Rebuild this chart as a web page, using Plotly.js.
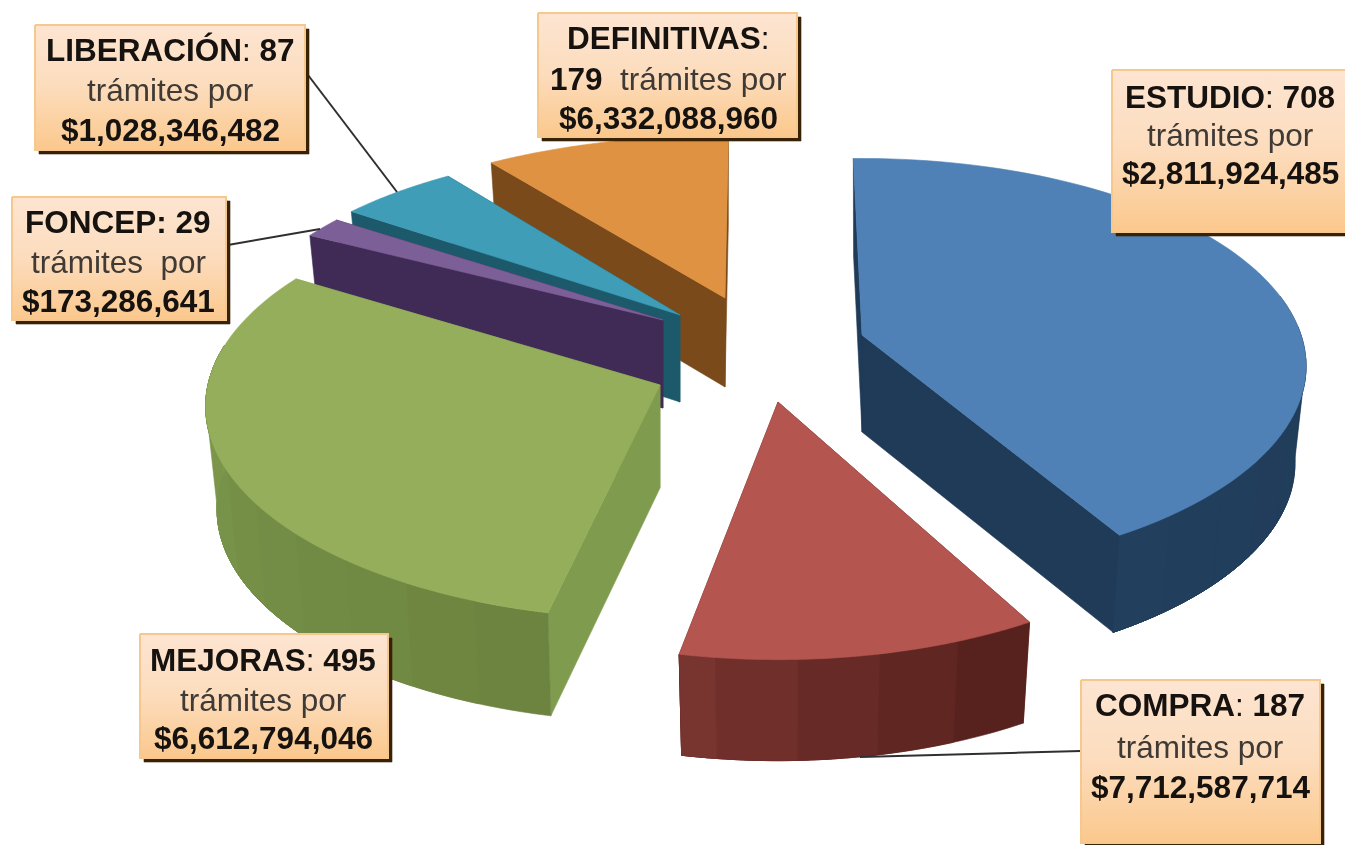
<!DOCTYPE html>
<html><head><meta charset="utf-8">
<script src="https://cdn.plot.ly/plotly-3.0.1.min.js"></script>
<style>html,body{margin:0;padding:0;background:#fff}#c{width:1345px;height:845px;filter:blur(.45px)}</style>
</head><body><div id="c"></div>
<script>
// ---- data ----
var categories = ["ESTUDIO","COMPRA","MEJORAS","FONCEP","LIBERACIÓN","DEFINITIVAS"];
var tramites   = [708,187,495,29,87,179];
var montos     = ["$2,811,924,485","$7,712,587,714","$6,612,794,046","$173,286,641","$1,028,346,482","$6,332,088,960"];

// ---- pie look: explosion centre, radii, perspective, depth ----
var ROT = -2;
var look = {
  ESTUDIO:    {cx:862,cy:335,rx:439,ry:203,k:.15,d:97, turn:.7, extra:-.7,top:"#4f81b6",cut:"#1f3b58",wallA:"#1f3b58",wallB:"#223f5e"},
  COMPRA:     {cx:778,cy:402,rx:449,ry:219,k:.15,d:101,turn:1.6,extra:0, top:"#b5554f",cut:"#5a231f",wallA:"#57211d",wallB:"#7c3631"},
  MEJORAS:    {cx:660,cy:385,rx:452,ry:211,k:.10,d:103,turn:3.7,extra:3.3,top:"#95ae5b",cut:"#7f9c4e",wallA:"#6d8440",wallB:"#7e9a4e"},
  FONCEP:     {cx:663,cy:320,rx:428,ry:193,k:.15,d:88, turn:3,  extra:0, top:"#7d5f98",cut:"#3f2b55",wallA:"#3f2b55",wallB:"#3f2b55"},
  "LIBERACIÓN":{cx:680,cy:315,rx:440,ry:193,k:.15,d:87,turn:4.5,extra:-.5,top:"#3f9db7",cut:"#1c5a6b",wallA:"#1c5a6b",wallB:"#1c5a6b"},
  DEFINITIVAS:{cx:725,cy:298,rx:449,ry:187,k:.15,d:89, turn:4.5,extra:-2, top:"#df9241",cut:"#7a4a1b",wallA:"#7a4a1b",wallB:"#7a4a1b"}
};
var paintOrder = ["DEFINITIVAS","LIBERACIÓN","FONCEP","ESTUDIO","COMPRA","MEJORAS"];

// ---- label boxes ----
var boxes = {
  ESTUDIO:    {x0:1112,x1:1348,y0:70, y1:232,cx:1230,ys:[97,135,173]},
  COMPRA:     {x0:1081,x1:1320,y0:680,y1:843,cx:1200,ys:[705,747,787]},
  MEJORAS:    {x0:140, x1:388, y0:634,y1:758,cx:263, ys:[660,700,738]},
  FONCEP:     {x0:12,  x1:226, y0:197,y1:320,cx:118, ys:[222,262,301]},
  "LIBERACIÓN":{x0:35, x1:305, y0:25, y1:150,cx:170, ys:[50,90,130]},
  DEFINITIVAS:{x0:538,x1:797,y0:13, y1:137,cx:668,ys:[38,79,118]}
};
var leaders = [
  {x:[308,397],y:[75,192]},
  {x:[228,320],y:[245,229]},
  {x:[860,1081],y:[757,751]}
];

var total = tramites.reduce(function(a,b){return a+b;},0);
var ranges = {}, acc = 0;
categories.forEach(function(c,i){
  var sweep = tramites[i]/total*360;
  ranges[c] = [ROT+acc+look[c].turn, ROT+acc+sweep+look[c].turn+look[c].extra];
  acc += sweep;
});

function rim(s,deg){
  var t=deg*Math.PI/180, u=Math.sin(t), v=Math.cos(t), w=1+s.k*v;
  return [s.cx+s.rx*u/w, s.cy-s.ry*v/w];
}
function below(s,p){ return [s.cx+(p[0]-s.cx)*.975, p[1]+s.d]; }
function hex(c){return [1,3,5].map(function(i){return parseInt(c.substr(i,2),16);});}
function mix(a,b,f){var A=hex(a),B=hex(b);return "rgb("+A.map(function(x,i){return Math.round(x+(B[i]-x)*f);}).join(",")+")";}

var traces = [];
function poly(pts,color,extra){
  var t = {type:"scatter",mode:"lines",x:pts.map(function(p){return p[0];}),y:pts.map(function(p){return p[1];}),
    fill:"toself",fillcolor:color,line:{color:color,width:.6,simplify:false},hoverinfo:"skip",showlegend:false};
  if(extra) for(var k in extra) t[k]=extra[k];
  traces.push(t);
}
paintOrder.forEach(function(name){
  var s=look[name], a=ranges[name][0], b=ranges[name][1], apex=[s.cx,s.cy], apexB=below(s,apex);
  function cut(deg){var p=rim(s,deg);poly([apex,p,below(s,p),apexB,apex],s.cut);}
  cut(b);
  cut(a);
  // outer wall: overlapping bands, running a little past the silhouette so the top face closes it
  var facing=[];
  for(var q=0;q<=Math.ceil(b-a);q++){
    var dg=Math.min(b,a+q);
    if(Math.cos(dg*Math.PI/180) < .2) facing.push(dg);
  }
  var bandSize=9;
  for(var g=0;g<facing.length-1;g+=bandSize){
    var part=facing.slice(g), topEdge=part.map(function(d){return rim(s,d);});
    var botEdge=topEdge.map(function(p){return below(s,p);}).reverse();
    var f=facing.length>1 ? g/(facing.length-1) : 0;
    var pts=topEdge.concat(botEdge); pts.push(topEdge[0]);
    poly(pts,mix(s.wallA,s.wallB,f));
  }
  var top=[apex];
  for(var j=0;j<=80;j++) top.push(rim(s,a+(b-a)*j/80));
  top.push(apex);
  poly(top,s.top);
});

leaders.forEach(function(l){
  traces.push({type:"scatter",mode:"lines",x:l.x,y:l.y,line:{color:"#2f2f2f",width:2},hoverinfo:"skip",showlegend:false});
});

var annotations=[];
function txt(x,y,t,color){
  annotations.push({x:x,y:y,xref:"x",yref:"y",text:t,showarrow:false,xanchor:"center",yanchor:"middle",
    font:{family:"Liberation Sans",size:31.5,color:color||"#161210"}});
}
categories.forEach(function(c,i){
  var b=boxes[c];
  var rect=[[b.x0,b.y0],[b.x1,b.y0],[b.x1,b.y1],[b.x0,b.y1],[b.x0,b.y0]];
  poly(rect.map(function(p){return [p[0]+4,p[1]+4];}),"#3a2206");
  poly(rect,"#fbd9b4",{fillgradient:{type:"vertical",colorscale:[[0,"#fbc88c"],[.5,"#fcdcbc"],[1,"#fde5d2"]]},line:{color:"#f6c88e",width:2}});
  var por = c==="FONCEP" ? "trámites\u00a0\u00a0por" : "trámites por";
  if(c==="DEFINITIVAS"){
    txt(b.cx,b.ys[0],"<b>"+c+"</b>:");
    txt(b.cx,b.ys[1],"<b>"+tramites[i]+"</b>\u00a0\u00a0<span style=\"color:#3f3a36\">"+por+"</span>");
  } else {
    txt(b.cx,b.ys[0],"<b>"+c+"</b>"+(c==="FONCEP"?"<b>:</b>":":")+" <b>"+tramites[i]+"</b>");
    txt(b.cx,b.ys[1],por,"#3f3a36");
  }
  txt(b.cx,b.ys[2],"<b>"+montos[i]+"</b>");
});

var hidden={visible:false,showgrid:false,zeroline:false,fixedrange:true};
Plotly.newPlot("c",traces,{
  width:1345,height:845,margin:{l:0,r:0,t:0,b:0},paper_bgcolor:"#fff",plot_bgcolor:"#fff",showlegend:false,
  xaxis:Object.assign({range:[0,1345]},hidden),
  yaxis:Object.assign({range:[845,0]},hidden),
  annotations:annotations
},{displayModeBar:false,staticPlot:true});
</script></body></html>
